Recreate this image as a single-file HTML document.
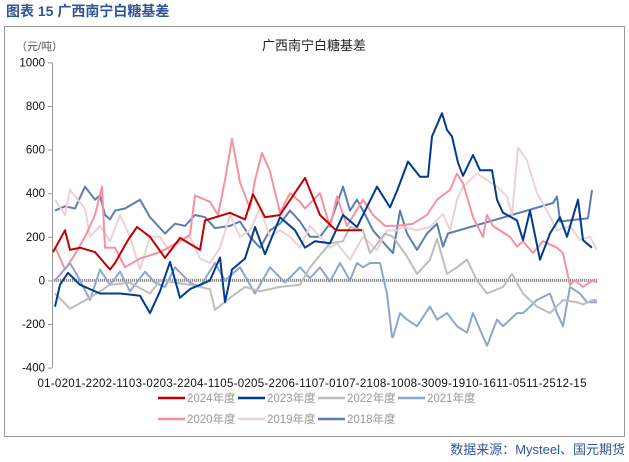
<!DOCTYPE html>
<html><head><meta charset="utf-8"><style>
body{margin:0;width:629px;height:457px;background:#fff;overflow:hidden;font-family:"Liberation Sans","Noto Sans CJK SC",sans-serif;}
svg text{font-family:"Liberation Sans","Noto Sans CJK SC",sans-serif;}
</style></head><body>
<svg id="c" width="629" height="457">
<text x="6" y="16" font-size="14" font-weight="bold" fill="#2f5597">图表 15  广西南宁白糖基差</text>
<rect x="4.5" y="26.5" width="620" height="410" fill="none" stroke="#999"/>
<text x="314" y="50" font-size="13" text-anchor="middle" fill="#222" font-family="'Noto Serif CJK SC',serif">广西南宁白糖基差</text>
<text x="16" y="50" font-size="11" fill="#555">（元/吨）</text>
<g id="axes"></g><g id="series"></g>
<text x="312" y="387" font-size="11.5" text-anchor="middle" fill="#111" textLength="549">01-0201-2202-1103-0203-2204-1105-0205-2206-1107-0107-2108-1008-3009-1910-1611-0511-2512-15</text>
<g id="legend"></g>
<text x="625" y="454" font-size="13" text-anchor="end" fill="#2f5597">数据来源：Mysteel、国元期货</text>
</svg>
<script>
const yTicks=[1000,800,600,400,200,0,-200,-400];
const seriesNames=["2018年度","2019年度","2020年度","2021年度","2022年度","2023年度","2024年度"];
const colors=["#5a7db5","#ecd2d4","#f4929f","#8ea6cc","#bdbdbd","#003b8e","#c00000"];
// x = day offset within season (0..545 scale)
const d2018=[3,13,23,28,33,43,48,53,58,63,73,88,98,113,123,133,143,153,163,178,188,198,208,218,228,238,248,258,268,278,291,298,305,311,321,335,341,348,355,365,375,385,391,396,501,505,508,536,540];
const v2018=[320,340,330,380,430,370,390,300,280,320,330,370,290,215,260,250,300,290,240,250,270,200,150,230,260,320,270,200,200,260,430,320,370,320,230,155,125,320,215,140,215,260,155,215,355,385,270,285,415];
const d2019=[3,13,18,33,38,48,58,68,78,88,98,108,118,128,138,148,158,168,178,188,198,208,218,228,238,248,258,268,278,285,298,311,325,335,345,351,365,378,391,398,405,411,425,435,445,455,460,466,475,485,495,505,518,528,538,545];
const v2019=[370,300,415,330,200,250,180,300,200,50,200,200,130,180,200,100,80,150,300,200,230,330,200,230,200,150,250,200,150,170,95,200,140,230,230,245,230,245,305,230,370,430,490,460,430,385,300,610,550,400,320,230,250,185,200,140];
const d2020=[3,13,23,33,43,50,53,63,73,88,108,128,138,143,158,166,173,180,188,198,203,210,218,228,238,248,253,268,278,285,295,311,321,333,345,361,375,385,398,405,411,421,431,435,441,451,458,465,471,481,491,505,511,518,523,531,541,545];
const v2020=[155,50,120,200,300,430,150,150,60,100,130,180,210,390,360,300,460,650,450,330,460,585,500,310,400,360,330,400,245,385,250,370,300,250,250,260,300,370,415,490,445,290,200,300,250,220,200,155,180,125,180,150,125,-20,0,-30,0,-10];
const d2021=[3,18,28,38,48,58,68,78,93,103,113,123,138,148,163,173,188,203,218,233,248,258,268,278,288,298,305,311,318,328,335,340,341,348,355,365,378,385,395,405,415,421,435,445,451,465,471,478,485,498,505,511,518,528,535,545];
const v2021=[0,80,0,-90,50,-20,40,-50,40,-10,-30,60,-10,-30,80,0,60,-60,60,-10,60,10,60,-5,80,0,80,60,80,80,-60,-260,-260,-150,-180,-210,-120,-180,-150,-210,-240,-150,-300,-180,-210,-150,-150,-120,-90,-60,-150,-210,-30,-60,-100,-100];
const d2022=[3,18,38,58,78,98,108,138,158,163,178,193,208,228,248,258,278,291,298,311,318,333,341,355,365,378,385,395,405,415,425,435,451,460,471,485,498,511,525,531,541,545];
const v2022=[-60,-130,-80,-20,-10,-60,0,-20,-40,-135,-80,-30,-50,-30,-20,60,170,180,245,230,125,215,200,110,30,95,190,30,60,95,0,-60,-30,30,-60,-120,-150,-90,-100,-110,-90,-90];
const d2023=[3,8,16,28,48,68,88,98,108,118,128,138,148,158,168,173,180,193,203,213,228,243,253,263,278,291,305,325,338,345,356,368,376,380,390,395,400,406,411,421,428,440,445,451,465,471,478,488,498,508,515,526,531,540];
const v2023=[-120,-20,35,-20,-60,-60,-70,-150,-50,85,-80,-40,-20,0,105,-100,50,100,245,120,290,230,150,180,170,300,245,430,335,410,545,475,475,660,767,690,660,540,480,575,505,505,370,310,275,185,320,95,215,290,200,370,185,150];
const d2024=[1,13,18,28,43,58,63,76,85,98,113,128,148,153,178,193,201,213,228,253,268,284,298,310];
const v2024=[130,230,140,150,130,50,80,185,245,200,103,195,140,275,310,280,395,290,300,470,300,230,230,230];
const X0=52,X1=597,Y0=280.4,K=0.218;
const xs=d=>X0+d*(X1-X0)/545;
const ys=v=>Y0-v*K;
const NS="http://www.w3.org/2000/svg";
function mk(t,a,p){const e=document.createElementNS(NS,t);for(const k in a)e.setAttribute(k,a[k]);p.appendChild(e);return e;}
const ax=document.getElementById('axes');
const yAxis=mk('line',{x1:X0+.5,x2:X0+.5,y1:ys(1000),y2:ys(-400),stroke:'#999','stroke-width':1},ax);


yTicks.forEach(t=>{
 const tk=mk('line',{x1:X0-4,x2:X0,y1:ys(t)+.5,y2:ys(t)+.5,stroke:'#999'},ax);
 
 
 const l=mk('text',{x:45,y:ys(t)+4,'font-size':11.5,'text-anchor':'end',fill:'#111'},ax);
 l.textContent=t;
 
 
});
const zl=mk('line',{x1:X0,x2:X1,y1:ys(0),y2:ys(0),stroke:'#8c8c8c','stroke-width':3,'stroke-dasharray':'1.2,0.8'},ax);


const sd=[[d2018,v2018],[d2019,v2019],[d2020,v2020],[d2021,v2021],[d2022,v2022],[d2023,v2023],[d2024,v2024]];
const sg=document.getElementById('series');
sd.forEach((s,i)=>{
 const pts=s[0].map((d,j)=>xs(d).toFixed(1)+','+ys(s[1][j]).toFixed(1)).join(' ');
 const p=mk('polyline',{points:pts,fill:'none',stroke:colors[i],'stroke-width':2,'stroke-linejoin':'round'},sg);
 
 
});
const lg=document.getElementById('legend');
const order=[6,5,4,3,2,1,0];
order.forEach((si,k)=>{
 const row=k<4?0:1,col=k<4?k:k-4;
 const x=158+col*80,y=row?419:398;
 const g=mk('g',{},lg);
 
 
 mk('line',{x1:x,x2:x+27,y1:y,y2:y,stroke:colors[si],'stroke-width':2.5},g);
 const t=mk('text',{x:x+29,y:y+4,'font-size':11.5,fill:'#999'},g);
 t.textContent=seriesNames[si];
});
</script>
</body></html>
